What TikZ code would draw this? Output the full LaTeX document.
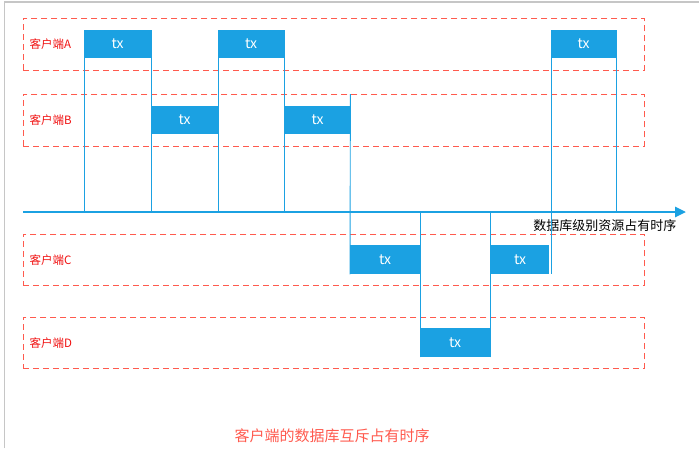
\documentclass[tikz,border=0pt]{standalone}
\usepackage{fontspec}
\usepackage{xcolor}
\usetikzlibrary{arrows.meta}
\setmainfont{Noto Sans CJK SC}
\definecolor{txblue}{HTML}{1BA1E2}
\definecolor{lanered}{HTML}{FF5A4E}
\definecolor{labelred}{HTML}{F01010}

\begin{document}
\begin{tikzpicture}[x=1pt,y=-1pt,
    lane/.style={draw=lanered,dash pattern=on 6pt off 4pt,line width=0.9pt,
      minimum width=621pt,minimum height=52pt,anchor=north west,inner sep=0pt},
    lanetext/.style={text=labelred,anchor=west,font=\fontsize{11.5}{12}\selectfont},
    txbox/.style={fill=txblue,text=white,anchor=north west,inner sep=0pt,
      minimum height=28pt,font=\fontsize{14}{14}\selectfont},
    tick/.style={draw=txblue,line width=0.9pt}
  ]
  \useasboundingbox (0,0) rectangle (699,448);
  % screenshot frame
  \draw[gray!45,line width=1.5pt] (4.5,448) -- (4.5,2) -- (699,2);

  % client lanes
  \node[lane] (laneA) at (23,18) {};
  \node[lane] (laneB) at (23,94) {};
  \node[lane,minimum height=51pt] (laneC) at (23,234) {};
  \node[lane,minimum height=51pt] (laneD) at (23,317) {};
  \node[lanetext] (labA) at ([xshift=3pt]laneA.west) {客户端A};
  \node[lanetext] (labB) at ([xshift=3pt]laneB.west) {客户端B};
  \node[lanetext] (labC) at ([xshift=3pt]laneC.west) {客户端C};
  \node[lanetext] (labD) at ([xshift=3pt]laneD.west) {客户端D};

  % time axis
  \coordinate (axisL) at (23,212);
  \coordinate (axisR) at (686,212);
  \draw[txblue,line width=2.6pt,-{Triangle[length=11pt,width=10pt]}] (axisL) -- (axisR);
  \node[anchor=north east,font=\fontsize{13}{13}\selectfont] (axislab) at (680,216) {数据库级别资源占有时序};

  % transactions
  \node[txbox,minimum width=67pt] (a1) at (84,30) {tx};
  \node[txbox,minimum width=67pt] (b1) at (151,106) {tx};
  \node[txbox,minimum width=66pt] (a2) at (218,30) {tx};
  \node[txbox,minimum width=65pt] (b2) at (285,106) {tx};
  \node[txbox,minimum width=70pt,minimum height=29pt] (c1) at (350,245) {tx};
  \node[txbox,minimum width=70pt,minimum height=29pt] (d1) at (420,328) {tx};
  \node[txbox,minimum width=58pt,minimum height=29pt] (c2) at (491,245) {tx};
  \node[txbox,minimum width=65pt] (a3) at (551,30) {tx};

  % hold lines
  \draw[tick] (a1.north west) -- (a1.north west |- axisL);
  \draw[tick] (a1.north east) -- (a1.north east |- axisL);
  \draw[tick] (a2.north west) -- (a2.north west |- axisL);
  \draw[tick] (a2.north east) -- (a2.north east |- axisL);
  \draw[tick] (b2.east |- laneB.north) -- (c1.south west);
  \draw[tick] (d1.south west) -- (d1.south west |- axisL);
  \draw[tick] (d1.south east) -- (d1.south east |- axisL);
  \draw[tick] (a3.north west) -- (a3.north west |- c2.south);
  \draw[tick] (a3.north east) -- (a3.north east |- axisL);

  \node[text=lanered,font=\fontsize{15}{15}\selectfont] (title) at (332,436) {客户端的数据库互斥占有时序};
\end{tikzpicture}
\end{document}
